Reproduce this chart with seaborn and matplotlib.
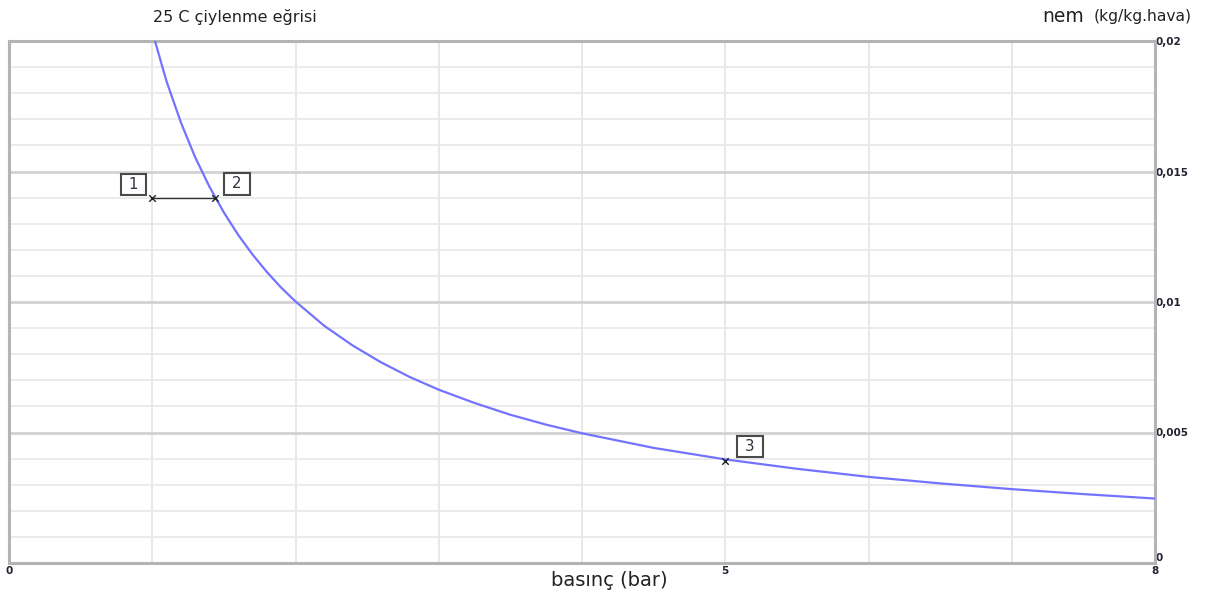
import matplotlib
matplotlib.use("Agg")
import matplotlib.pyplot as plt
import seaborn as sns
import pandas as pd

# Saturation (dew) curve at 25 C
pressure = [1.0, 1.1, 1.2, 1.3, 1.4, 1.5, 1.6, 1.7, 1.8, 1.9, 2.0, 2.2, 2.4,
            2.6, 2.8, 3.0, 3.25, 3.5, 3.75, 4.0, 4.5, 5.0, 5.5, 6.0, 6.5,
            7.0, 7.5, 8.0]
humidity = [0.02036, 0.01845, 0.01688, 0.01554, 0.01441, 0.01343, 0.01257,
            0.01182, 0.01115, 0.01055, 0.01002, 0.00909, 0.00833, 0.00768,
            0.00712, 0.00664, 0.00613, 0.00568, 0.00530, 0.00497, 0.00441,
            0.00397, 0.00361, 0.00330, 0.00305, 0.00283, 0.00264, 0.00247]

# State points
point_labels = ["1", "2", "3"]
point_x = [1.0, 1.44, 5.0]
point_y = [0.014, 0.014, 0.0039]

x_ticks = [0, 5, 8]
x_tick_labels = ["0", "5", "8"]
y_ticks = [0, 0.005, 0.01, 0.015, 0.02]
y_tick_labels = ["0", "0,005", "0,01", "0,015", "0,02"]

title_text = "25 C çiylenme eğrisi"
x_label = "basınç (bar)"

sns.set_style("white")
plt.rcParams['font.family'] = ['DejaVu Sans']

fig = plt.figure(figsize=(12.14, 5.98), dpi=100)
ax = fig.add_axes([9/1214, 35/598, (1155-9)/1214, (563-41)/598])

ax.set_xlim(0, 8)
ax.set_ylim(0, 0.02)

# grid
for i in range(1, 8):
    ax.axvline(i, color="#e4e4e4", lw=1.2, zorder=0)
for k in range(1, 20):
    v = k * 0.001
    if k % 5 == 0:
        ax.axhline(v, color="#d2d2d2", lw=2.0, zorder=0)
    else:
        ax.axhline(v, color="#e8e8e8", lw=1.2, zorder=0)

curve = pd.DataFrame({"p": pressure, "h": humidity})
sns.lineplot(data=curve, x="p", y="h", ax=ax, color="#7373ff", lw=1.6,
             sort=False, zorder=3)

# process line 1 -> 2
ax.plot(point_x[:2], point_y[:2], color="#333333", lw=1.0, zorder=4)
pts = pd.DataFrame({"x": point_x, "y": point_y})
sns.scatterplot(data=pts, x="x", y="y", ax=ax, marker="x", color="#222222",
                s=22, linewidth=1.0, zorder=5)

box = dict(boxstyle="square,pad=0.2", fc="white", ec="#4a4a4a", lw=1.5)
offsets = [(-6.5, 4.0, "right"), (8.5, 4.4, "left"), (10.6, 5.2, "left")]
for lab, px, py, (dx, dy, ha) in zip(point_labels, point_x, point_y, offsets):
    ax.annotate(" " + lab + " ", (px, py), xytext=(dx, dy),
                textcoords="offset points", ha=ha, va="bottom",
                fontsize=11, color="#333344", bbox=box, zorder=6)

# spines
for s in ax.spines.values():
    s.set_color("#b4b4b4")
    s.set_linewidth(2.2)

ax.set_xlabel("")
ax.set_ylabel("")
ax.set_xticks(x_ticks)
ax.set_xticklabels(x_tick_labels, fontsize=7.5, fontweight="bold", color="#222233")
ax.yaxis.tick_right()
ax.set_yticks(y_ticks)
ax.set_yticklabels(y_tick_labels, fontsize=7.5, fontweight="bold", color="#222233")
ax.tick_params(axis="both", length=0, pad=2)
ax.tick_params(axis="y", pad=0)
ax.get_yticklabels()[0].set_va("bottom")

fig.text(235/1214, 1 - 17/598, title_text, ha="center", va="center",
         fontsize=11.5, color="#222222")
fig.text(1084/1214, 1 - 17/598, "nem", ha="right", va="center",
         fontsize=13.5, color="#222222")
fig.text(1094/1214, 1 - 17/598, "(kg/kg.hava)", ha="left", va="center",
         fontsize=11.2, color="#222222")
fig.text(609/1214, 1 - 581/598, x_label, ha="center", va="center",
         fontsize=14, color="#222222")

fig.savefig("out.png", dpi=100)
